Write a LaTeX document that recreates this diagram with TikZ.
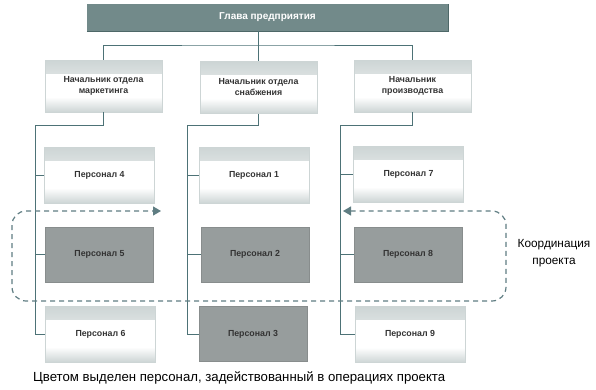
\documentclass[tikz,border=0pt]{standalone}
\usepackage{fontspec}
\setmainfont{Liberation Sans}
\usetikzlibrary{arrows.meta}
\definecolor{topfill}{HTML}{728A8A}
\definecolor{topedge}{HTML}{4E6868}
\definecolor{grayfill}{HTML}{979D9D}
\definecolor{bandc}{HTML}{CDD5D5}
\definecolor{linec}{HTML}{4D7276}
\definecolor{dashc}{HTML}{5F7D82}
\definecolor{txtc}{HTML}{333333}
\tikzset{
  lightbox/.style={draw=bandc, line width=0.6pt, minimum width=110pt, minimum height=56pt,
    inner sep=0pt, font=\fontsize{8.8}{11}\selectfont\bfseries, text=txtc, align=center,
    path picture={
      \shade[top color=bandc, bottom color=white]
        (path picture bounding box.north west) rectangle ([yshift=-13pt]path picture bounding box.north east);
      \shade[top color=white, bottom color=bandc]
        ([yshift=15pt]path picture bounding box.south west) rectangle (path picture bounding box.south east);
    }},
  mgrbox/.style={lightbox, minimum width=117pt, minimum height=52pt},
  graybox/.style={fill=grayfill, draw=grayfill!90!black, line width=0.4pt, minimum width=108pt, minimum height=55pt,
    inner sep=0pt, font=\fontsize{8.8}{11}\selectfont\bfseries, text=txtc},
  topbox/.style={fill=topfill, minimum width=361pt, minimum height=27pt, inner sep=0pt,
    font=\fontsize{10}{12}\selectfont\bfseries, text=white},
  conn/.style={draw=linec, line width=0.9pt},
  loop/.style={draw=dashc, line width=1.2pt, dash pattern=on 5pt off 4pt, rounded corners=14pt,
    {Triangle[length=8pt,width=9pt,fill=dashc]}-{Triangle[length=8pt,width=9pt,fill=dashc]}},
  plain/.style={text=black, inner sep=0pt}
}
\begin{document}
\begin{tikzpicture}[x=1pt,y=-1pt]
\useasboundingbox (0,0) rectangle (596,389);
% top
\node[topbox] (top) at (267.5,17.5) {Глава предприятия};
\draw[topedge, line width=1.2pt] (top.south west) -- (top.south east) -- (top.north east);
% managers
\node[mgrbox] (m1) at (103.5,86) {Начальник отдела\\маркетинга};
\node[mgrbox] (m2) at (258.5,87.5) {Начальник отдела\\снабжения};
\node[mgrbox] (m3) at (412.5,86) {Начальник\\производства};
% personnel
\node[lightbox] (p4) at (99.5,175) {Персонал 4};
\node[graybox]  (p5) at (99.5,254.5) {Персонал 5};
\node[lightbox] (p6) at (100.5,334) {Персонал 6};
\node[lightbox] (p1) at (254,175) {Персонал 1};
\node[graybox]  (p2) at (255,254.5) {Персонал 2};
\node[graybox]  (p3) at (253,334) {Персонал 3};
\node[lightbox] (p7) at (408.5,174) {Персонал 7};
\node[graybox]  (p8) at (408,254.5) {Персонал 8};
\node[lightbox] (p9) at (410,334.5) {Персонал 9};
% connectors top
\coordinate (hl) at (0,45);
\draw[conn] (top.south -| m2.north) -- (m2.north);
\draw[conn] (m1.north) |- (hl -| m2.north) -| (m3.north);
% spines
\coordinate (s1) at (35,125);
\coordinate (s2) at (187,125);
\coordinate (s3) at (340,125);
\draw[conn] (m1.south) |- (s1) |- (p6.west);
\draw[conn] (m2.south) |- (s2) |- (p3.west);
\draw[conn] (m3.south) |- (s3) |- (p9.west);
\draw[conn] (s1 |- p4.west) -- (p4.west);
\draw[conn] (s1 |- p5.west) -- (p5.west);
\draw[conn] (s2 |- p1.west) -- (p1.west);
\draw[conn] (s2 |- p2.west) -- (p2.west);
\draw[conn] (s3 |- p7.west) -- (p7.west);
\draw[conn] (s3 |- p8.west) -- (p8.west);
% coordination loop
\coordinate (la) at (343,211);
\coordinate (lb) at (506,211);
\coordinate (lc) at (506,301);
\coordinate (ld) at (12,301);
\coordinate (le) at (12,211);
\coordinate (lf) at (161,211);
\draw[loop] (la) -- (lb) -- (lc) -- (ld) -- (le) -- (lf);
\node[plain, align=center, font=\fontsize{11.8}{16.5}\selectfont] (coord) at (554,253) {Координация\\проекта};
\node[plain, anchor=west, font=\fontsize{13.2}{15}\selectfont] (cap) at (33,378) {Цветом выделен персонал, задействованный в операциях проекта};
\end{tikzpicture}
\end{document}
